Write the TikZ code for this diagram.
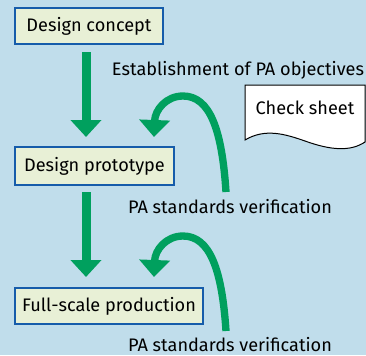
\documentclass[tikz,border=0pt]{standalone}
\usepackage{fontspec}
\setmainfont{Fira Sans}
\usetikzlibrary{arrows.meta}
\definecolor{bgblue}{RGB}{192,221,235}
\definecolor{boxblue}{RGB}{22,92,170}
\definecolor{boxfill}{RGB}{232,240,214}
\definecolor{arrowgreen}{RGB}{0,160,94}
\begin{document}
\begin{tikzpicture}[
    x=0.75pt, y=-0.75pt,
    stagebox/.style={
        rectangle,
        draw=boxblue,
        line width=1.5pt,
        fill=boxfill,
        minimum height=27pt,
        inner sep=2pt,
        font=\fontsize{13.6}{15}\selectfont
    },
    notetext/.style={
        font=\fontsize{13.6}{15}\selectfont,
        text=black,
        inner sep=0pt
    },
    downarrow/.style={
        draw=arrowgreen,
        line width=6.75pt,
        -{Triangle[width=22.5pt,length=12.75pt]}
    },
    loopback/.style={
        draw=arrowgreen,
        line width=5.5pt,
        -{Triangle[width=22.5pt,length=12.75pt]}
    }
]

% Fondo
\fill[bgblue] (0,0) rectangle (366,355);
\useasboundingbox (0,0) rectangle (366,355);

% Etapas
\node[stagebox, minimum width=111pt] (concept) at (89,26) {Design concept};
\node[stagebox, minimum width=119.25pt, minimum height=28.5pt] (prototype) at (94.5,166) {Design prototype};
\node[stagebox, minimum width=141pt] (production) at (109,306) {Full-scale production};

% Textos
\node[notetext] (objectives) at (238,70) {Establishment of PA objectives};
\node[notetext] (verify1) at (230,207) {PA standards verification};
\node[notetext] (verify2) at (230,345) {PA standards verification};

% Hoja de control
\draw[fill=white, line width=0.75pt]
    (245,85) -- (365,85) -- (365,142)
    .. controls (350,152) and (330,150) .. (305,141)
    .. controls (285,134) and (265,128) .. (245,140) -- cycle;
\node[notetext] (sheet) at (305,108) {Check sheet};

% Flechas entre etapas
\draw[downarrow, shorten <=5.25pt, shorten >=6.75pt]
    ([xshift=-2.25pt]concept.south) -- ([xshift=-2.25pt]concept.south |- prototype.north);
\draw[downarrow, shorten <=4.5pt, shorten >=7.5pt]
    ([xshift=-6.375pt]prototype.south) -- ([xshift=-6.375pt]prototype.south |- production.north);

% Flechas de verificacion
\coordinate (loop1start) at (226,192);
\coordinate (loop1tip) at (154,137);
\draw[loopback] (loop1start) .. controls (222,130) and (210,96) .. (183,96)
    .. controls (166,96) and (155,110) .. (loop1tip);

\coordinate (loop2start) at (226,331);
\coordinate (loop2tip) at (154,277);
\draw[loopback] (loop2start) .. controls (222,270) and (210,236) .. (183,236)
    .. controls (166,236) and (155,250) .. (loop2tip);

\end{tikzpicture}
\end{document}
